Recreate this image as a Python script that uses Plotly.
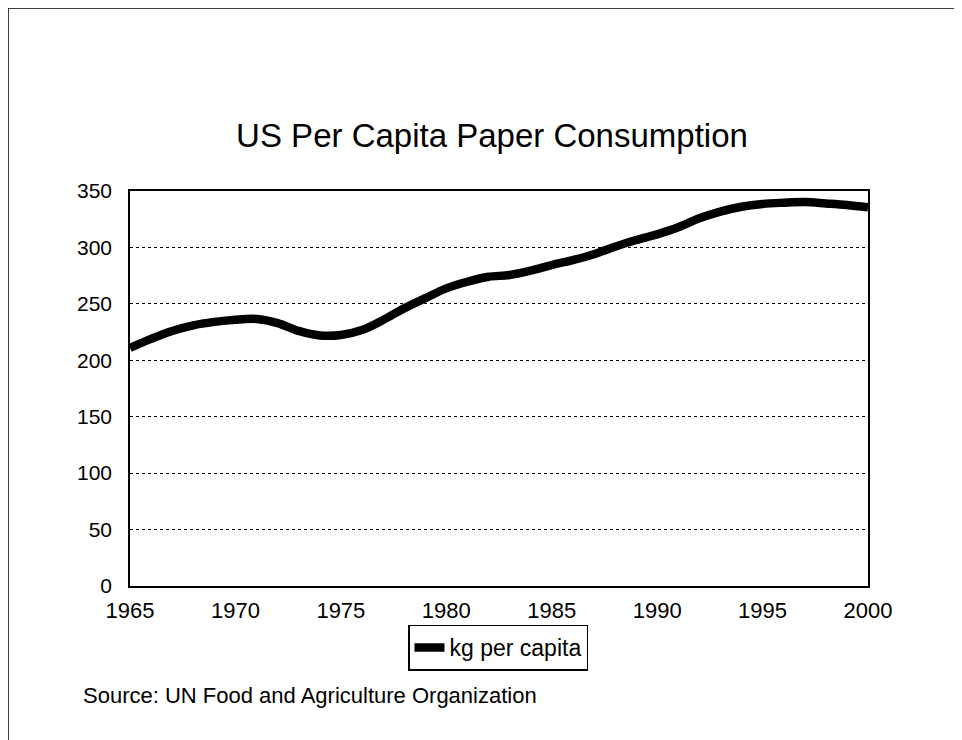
import plotly.graph_objects as go

years = list(range(1965, 2001))
kg_per_capita = [211, 219, 226, 231, 234, 236, 236.6, 233, 226, 222,
                 222.4, 226.8, 235.7, 246, 255, 263.7, 269.6, 274, 275.5, 279.4,
                 284.4, 288.8, 294, 300.6, 306.6, 311.6, 317.8, 325.8, 331.7, 336,
                 338.5, 339.6, 340.2, 339, 337.6, 335.5]
x_ticks = [1965, 1970, 1975, 1980, 1985, 1990, 1995, 2000]
y_ticks = [0, 50, 100, 150, 200, 250, 300, 350]

FONT = "Liberation Sans, Arial, sans-serif"

# page offset of the plotly div is 8px (body margin)
W, H = 954, 732
L, T = 122, 183
PW, PH = 738, 395

fig = go.Figure()
fig.add_trace(go.Scatter(
    x=years, y=kg_per_capita, mode="lines", name="kg per capita",
    line=dict(color="black", width=8.5, shape="spline", smoothing=1.0),
))

fig.update_layout(
    width=W, height=H,
    margin=dict(l=L, r=W - L - PW, t=T, b=H - T - PH),
    paper_bgcolor="white", plot_bgcolor="white",
    font=dict(family=FONT, color="black", size=21),
    title=dict(text="US Per Capita Paper Consumption", x=484 / W, xanchor="center",
               y=1 - 127 / H, yanchor="middle",
               font=dict(family=FONT, size=33, color="black")),
    xaxis=dict(range=[1965, 2000], tickvals=x_ticks, showgrid=False,
               showline=True, linecolor="black", linewidth=1.5, mirror=True,
               ticks="", tickfont=dict(size=22), zeroline=False,
               ticklabelstandoff=4),
    yaxis=dict(range=[0, 350], tickvals=y_ticks, showgrid=True,
               gridcolor="black", griddash="dot", gridwidth=1,
               showline=True, linecolor="black", linewidth=1.5, mirror=True,
               ticks="", tickfont=dict(size=21), zeroline=False,
               ticklabelstandoff=12),
    showlegend=True,
    legend=dict(orientation="h", x=(498 - 130) / PW, xanchor="center",
                y=(586 - 647.5) / PH, yanchor="middle",
                bordercolor="black", borderwidth=1.5, bgcolor="white",
                font=dict(family=FONT, size=23), itemwidth=30,
                tracegroupgap=0),
)

fig.add_annotation(text="Source: UN Food and Agriculture Organization",
                   xref="paper", yref="paper", x=(81 - 130) / PW, y=(586 - 695) / PH,
                   xanchor="left", yanchor="middle", showarrow=False,
                   font=dict(family=FONT, size=22, color="black"))

fig.add_shape(type="rect", xref="paper", yref="paper",
              x0=(8 - 130) / PW, x1=(975 - 130) / PW,
              y0=(586 - 760) / PH, y1=(586 - 8) / PH,
              line=dict(color="black", width=1.5), layer="below")

fig.write_html("out.html")
